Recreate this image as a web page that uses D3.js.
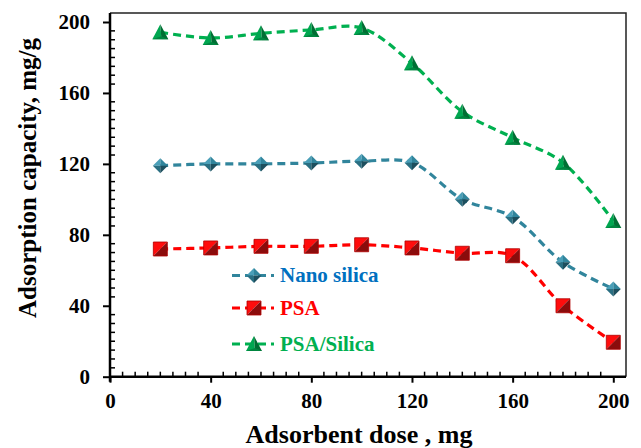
<!DOCTYPE html>
<html><head><meta charset="utf-8">
<script src="https://cdn.jsdelivr.net/npm/d3@7"></script>
<style>body{margin:0;background:#fff}svg{display:block}text{font-family:"Liberation Serif","Times New Roman",serif;font-weight:bold}</style>
</head><body><svg id="c" width="641" height="448"></svg>
<script>
const doses = [20, 40, 60, 80, 100, 120, 140, 160, 180, 200];
const nanoSilica = [119, 120, 120, 120.5, 121.5, 120.7, 100, 90, 64.5, 49.5];
const psa = [72, 72.6, 73.5, 73.5, 74.4, 72.6, 69.6, 68.2, 40, 19.4];
const psaSilica = [194.2, 191, 193.6, 195.5, 196.6, 176.7, 149.4, 134.8, 120.7, 87.8];
const xTicks = [0, 40, 80, 120, 160, 200];
const yTicks = [0, 40, 80, 120, 160, 200];
const seriesNames = ["Nano silica", "PSA", "PSA/Silica"];

const svg = d3.select("#c");
const L = 110, R = 626, T = 13, B = 376.7;
const x = d3.scaleLinear().domain([0, 205]).range([L, L + (613.3 - L) * 205 / 200]);
const y = d3.scaleLinear().domain([0, 200]).range([B, 22]);

const series = [
  {name: seriesNames[0], vals: nanoSilica, line: "#31859C", text: "#0070C0", shape: "diamond"},
  {name: seriesNames[1], vals: psa, line: "#FF0000", text: "#FF0000", shape: "square"},
  {name: seriesNames[2], vals: psaSilica, line: "#00B050", text: "#00B050", shape: "triangle"}
];

// frame top/right
svg.append("path").attr("d", `M${L},${T}H${R}V${B}`).attr("fill", "none").attr("stroke", "#222").attr("stroke-width", 1.5);

// minor ticks
const g = svg.append("g");
const xMinor = d3.range(5, 205, 5).filter(v => v % 40 !== 0);
const yMinor = d3.range(5, 205, 5).filter(v => v % 40 !== 0);
g.selectAll(".xm").data(xMinor).enter().append("line")
  .attr("x1", d => x(d)).attr("x2", d => x(d)).attr("y1", B).attr("y2", B - 5)
  .attr("stroke", "#000").attr("stroke-width", 1.5);
g.selectAll(".ym").data(yMinor).enter().append("line")
  .attr("y1", d => y(d)).attr("y2", d => y(d)).attr("x1", L).attr("x2", L + 5)
  .attr("stroke", "#000").attr("stroke-width", 1.5);

// axes
const xAxis = d3.axisBottom(x).tickValues(xTicks).tickSize(6).tickPadding(10).tickFormat(d3.format("d"));
const yAxis = d3.axisLeft(y).tickValues(yTicks).tickSize(7).tickPadding(13).tickFormat(d3.format("d"));
const gx = svg.append("g").attr("transform", `translate(0,${B})`).call(xAxis);
const gy = svg.append("g").attr("transform", `translate(${L},0)`).call(yAxis);
[gx, gy].forEach(a => {
  a.select(".domain").remove();
  a.selectAll(".tick line").attr("stroke", "#000").attr("stroke-width", 2);
  a.selectAll(".tick text").attr("fill", "#000").style("font-size", "21px")
    .style("font-family", '"Liberation Serif",serif').style("font-weight", "bold");
});
svg.append("line").attr("x1", L).attr("x2", R).attr("y1", B).attr("y2", B).attr("stroke", "#000").attr("stroke-width", 2.5);
svg.append("line").attr("x1", L).attr("x2", L).attr("y1", T).attr("y2", B + 5).attr("stroke", "#000").attr("stroke-width", 2.5);

// titles
svg.append("text").attr("x", 359).attr("y", 443).attr("text-anchor", "middle")
  .style("font-size", "26px").text("Adsorbent dose , mg");
svg.append("text").attr("transform", "translate(36,178) rotate(-90)").attr("text-anchor", "middle")
  .style("font-size", "25px").text("Adsorption capacity, mg/g");

// markers
function marker(sel, shape, cx, cy) {
  const m = sel.append("g").attr("transform", `translate(${cx},${cy})`);
  if (shape === "diamond") {
    const s = 7.5;
    m.append("path").attr("d", `M0,-${s}L-${s},0L0,0Z`).attr("fill", "#4a9fb8");
    m.append("path").attr("d", `M0,-${s}L${s},0L0,0Z`).attr("fill", "#31859C");
    m.append("path").attr("d", `M-${s},0L0,${s}L0,0Z`).attr("fill", "#2a6f82");
    m.append("path").attr("d", `M${s},0L0,${s}L0,0Z`).attr("fill", "#1d4f5e");
  } else if (shape === "square") {
    const s = 7;
    m.append("path").attr("d", `M-${s},-${s}H${s}L-${s},${s}Z`).attr("fill", "#ff0d0d");
    m.append("path").attr("d", `M${s},-${s}V${s}H-${s}Z`).attr("fill", "#8b0c0c");
    m.append("path").attr("d", `M-${s},-${s}H${s}V${s}H-${s}Z`).attr("fill", "none").attr("stroke", "#b00000").attr("stroke-width", 0.8);
  } else {
    const h = 8;
    m.append("path").attr("d", `M0,-${h}L-${h},${h - 1}L1,${h - 1}Z`).attr("fill", "#00a650");
    m.append("path").attr("d", `M0,-${h}L${h},${h - 1}L1,${h - 1}Z`).attr("fill", "#006e33");
    m.append("path").attr("d", `M-${h},${h - 1}L${h},${h - 1}L1,${h - 4}Z`).attr("fill", "#00853f");
  }
}

const line = d3.line().x((d, i) => x(doses[i])).y(d => y(d)).curve(d3.curveCatmullRom.alpha(0.5));
series.forEach(s => {
  svg.append("path").attr("d", line(s.vals)).attr("fill", "none")
    .attr("stroke", s.line).attr("stroke-width", 3.2).attr("stroke-dasharray", "8,5");
});
series.forEach(s => {
  const mg = svg.append("g");
  s.vals.forEach((v, i) => marker(mg, s.shape, x(doses[i]), y(v)));
});

// legend
const ly = [275.5, 308, 344];
series.forEach((s, i) => {
  svg.append("line").attr("x1", 232).attr("x2", 274).attr("y1", ly[i]).attr("y2", ly[i])
    .attr("stroke", s.line).attr("stroke-width", 3.2).attr("stroke-dasharray", "8,5");
  marker(svg, s.shape, 254, ly[i]);
  svg.append("text").attr("x", 280).attr("y", ly[i] + 6.5).attr("fill", s.text)
    .style("font-size", "21px").text(s.name);
});
</script></body></html>
